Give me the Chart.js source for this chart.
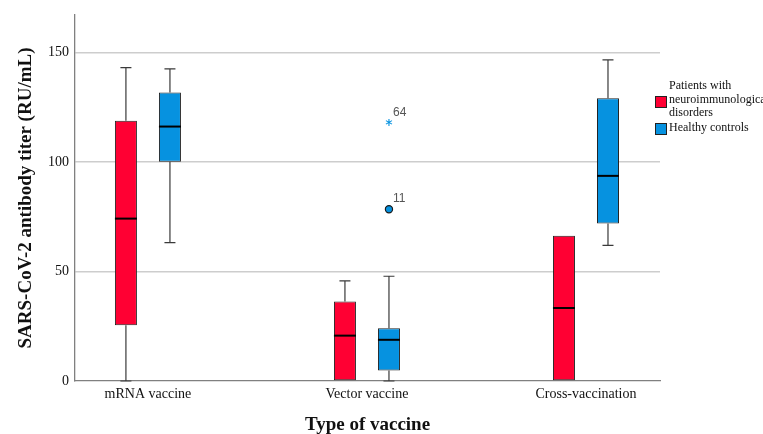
<!DOCTYPE html>
<html>
<head>
<meta charset="utf-8">
<script src="https://cdn.jsdelivr.net/npm/chart.js@4.4.1/dist/chart.umd.min.js"></script>
<style>
html,body{margin:0;padding:0;background:#fff;}
#wrap{width:763px;height:434px;position:relative;}
</style>
</head>
<body>
<div id="wrap"><canvas id="c" width="763" height="434"></canvas></div>
<script>
// ---- data ----
const categories = ['mRNA vaccine', 'Vector vaccine', 'Cross-vaccination'];
const categoryPositions = [1, 2, 3];
const seriesNames = ['Patients with neuroimmunological disorders', 'Healthy controls'];
const legendLines = [['Patients with', 'neuroimmunological', 'disorders'], ['Healthy controls']];

const patientsMin = [0, 0, 0];
const patientsQ1 = [25.4, 0, 0];
const patientsMedian = [74.1, 20.7, 33.3];
const patientsQ3 = [118.7, 36.3, 66.3];
const patientsMax = [143.0, 45.7, 66.3];

const controlsMin = [63.1, 0, 61.9];
const controlsQ1 = [100.0, 4.8, 71.9];
const controlsMedian = [116.1, 18.8, 93.6];
const controlsQ3 = [131.6, 24.1, 129.0];
const controlsMax = [142.4, 47.8, 146.5];

// outliers (healthy controls, vector vaccine)
const outlierSeries = [1, 1];
const outlierCategoryIndex = [1, 1];
const outlierValues = [78.4, 118.0];
const outlierLabels = ['11', '64'];
const outlierShapes = ['circle', 'star'];

const yTicks = [0, 50, 100, 150];

const RED = '#FF0033';
const BLUE = '#0692E0';

const stats = [
  {min: patientsMin, q1: patientsQ1, med: patientsMedian, q3: patientsQ3, max: patientsMax},
  {min: controlsMin, q1: controlsQ1, med: controlsMedian, q3: controlsQ3, max: controlsMax}
];

function boxData(s) {
  return categoryPositions.map((x, i) => ({x: x, y: [s.q1[i], s.q3[i]]}));
}

const boxPlugin = {
  id: 'boxExtras',
  afterDatasetsDraw(chart) {
    const ctx = chart.ctx;
    const ys = chart.scales.y;
    ctx.save();
    stats.forEach((s, di) => {
      const meta = chart.getDatasetMeta(di);
      meta.data.forEach((el, j) => {
        const x = el.x, w = el.width;
        const yMax = ys.getPixelForValue(s.max[j]);
        const yQ3 = ys.getPixelForValue(s.q3[j]);
        const yQ1 = ys.getPixelForValue(s.q1[j]);
        const yMin = ys.getPixelForValue(s.min[j]);
        const yMed = ys.getPixelForValue(s.med[j]);
        ctx.strokeStyle = '#3a3a3a';
        ctx.lineWidth = 1.2;
        const cap = w * 0.25;
        if (s.max[j] > s.q3[j]) {
          ctx.beginPath();
          ctx.moveTo(x, yQ3); ctx.lineTo(x, yMax);
          ctx.moveTo(x - cap, yMax); ctx.lineTo(x + cap, yMax);
          ctx.stroke();
        }
        if (s.min[j] < s.q1[j]) {
          ctx.beginPath();
          ctx.moveTo(x, yQ1); ctx.lineTo(x, yMin);
          ctx.moveTo(x - cap, yMin); ctx.lineTo(x + cap, yMin);
          ctx.stroke();
        }
        ctx.strokeStyle = '#000';
        ctx.lineWidth = 2;
        ctx.beginPath();
        ctx.moveTo(x - w / 2, yMed); ctx.lineTo(x + w / 2, yMed);
        ctx.stroke();
      });
    });
    // outliers
    outlierValues.forEach((v, k) => {
      const el = chart.getDatasetMeta(outlierSeries[k]).data[outlierCategoryIndex[k]];
      const x = el.x;
      const y = ys.getPixelForValue(v);
      if (outlierShapes[k] === 'circle') {
        ctx.beginPath();
        ctx.arc(x, y, 3.6, 0, Math.PI * 2);
        ctx.fillStyle = BLUE;
        ctx.fill();
        ctx.lineWidth = 1.2;
        ctx.strokeStyle = '#1a1a1a';
        ctx.stroke();
      } else {
        ctx.strokeStyle = BLUE;
        ctx.lineWidth = 1.1;
        ctx.beginPath();
        for (let a = 0; a < 3; a++) {
          const ang = Math.PI / 2 + a * Math.PI / 3;
          ctx.moveTo(x + Math.cos(ang) * 3.5, y + Math.sin(ang) * 3.5);
          ctx.lineTo(x - Math.cos(ang) * 3.5, y - Math.sin(ang) * 3.5);
        }
        ctx.stroke();
      }
      ctx.fillStyle = '#555';
      ctx.font = '12px "Liberation Sans", Arial, sans-serif';
      ctx.textAlign = 'left';
      ctx.textBaseline = 'middle';
      ctx.fillText(outlierLabels[k], x + 4, y - 10);
    });
    ctx.restore();
  },
  afterDraw(chart) {
    const ctx = chart.ctx;
    ctx.save();
    const colors = [RED, BLUE];
    const boxTops = [96.5, 123.5];
    const textStarts = [86, 128];
    ctx.font = '12px "Liberation Serif", "Times New Roman", serif';
    ctx.textAlign = 'left';
    ctx.textBaseline = 'middle';
    colors.forEach((c, i) => {
      ctx.fillStyle = c;
      ctx.fillRect(655.5, boxTops[i], 11, 11);
      ctx.strokeStyle = '#222';
      ctx.lineWidth = 1;
      ctx.strokeRect(655.5, boxTops[i], 11, 11);
      ctx.fillStyle = '#111';
      legendLines[i].forEach((t, li) => {
        ctx.fillText(t, 669, textStarts[i] + li * 13.5);
      });
    });
    ctx.restore();
  }
};

Chart.defaults.color = '#111';
Chart.defaults.font.family = '"Liberation Serif", "Times New Roman", serif';

new Chart(document.getElementById('c'), {
  type: 'bar',
  data: {
    datasets: [
      {label: seriesNames[0], data: boxData(stats[0]), backgroundColor: RED, borderColor: '#222', borderWidth: 1, borderSkipped: false},
      {label: seriesNames[1], data: boxData(stats[1]), backgroundColor: BLUE, borderColor: '#222', borderWidth: 1, borderSkipped: false}
    ]
  },
  options: {
    responsive: false,
    animation: false,
    events: [],
    categoryPercentage: 0.402,
    barPercentage: 0.5,
    layout: {padding: {top: 15, right: 103, left: 0, bottom: 0}},
    plugins: {legend: {display: false}, tooltip: {enabled: false}},
    scales: {
      x: {
        type: 'linear',
        offset: false,
        min: 0.667,
        max: 3.338,
        afterBuildTicks(scale) { scale.ticks = categoryPositions.map(v => ({value: v})); },
        afterFit(scale) { scale.height = 53; },
        grid: {display: false, drawTicks: false, offset: false},
        border: {display: true, color: '#808080', width: 1.3},
        ticks: {
          padding: 5,
          maxRotation: 0,
          autoSkip: false,
          font: {size: 14},
          color: '#111',
          callback(v) { const i = categoryPositions.indexOf(v); return i >= 0 ? categories[i] : ''; }
        },
        title: {display: true, text: 'Type of vaccine', font: {size: 19, weight: 'bold'}, color: '#111', padding: {top: 0, bottom: -2}}
      },
      y: {
        min: 0,
        max: 167,
        afterBuildTicks(scale) { scale.ticks = yTicks.map(v => ({value: v})); },
        afterFit(scale) { scale.width = 75; },
        grid: {
          drawTicks: false,
          color: (c) => c.tick && c.tick.value === 0 ? 'rgba(0,0,0,0)' : '#cdcdcd',
          lineWidth: 1.5
        },
        border: {display: true, color: '#808080', width: 1.3},
        ticks: {padding: 6, font: {size: 14}, color: '#111'},
        title: {display: true, text: 'SARS-CoV-2 antibody titer (RU/mL)', font: {size: 19, weight: 'bold'}, color: '#111', padding: {top: 15, bottom: 0}}
      }
    }
  },
  plugins: [boxPlugin]
});
</script>
</body>
</html>
